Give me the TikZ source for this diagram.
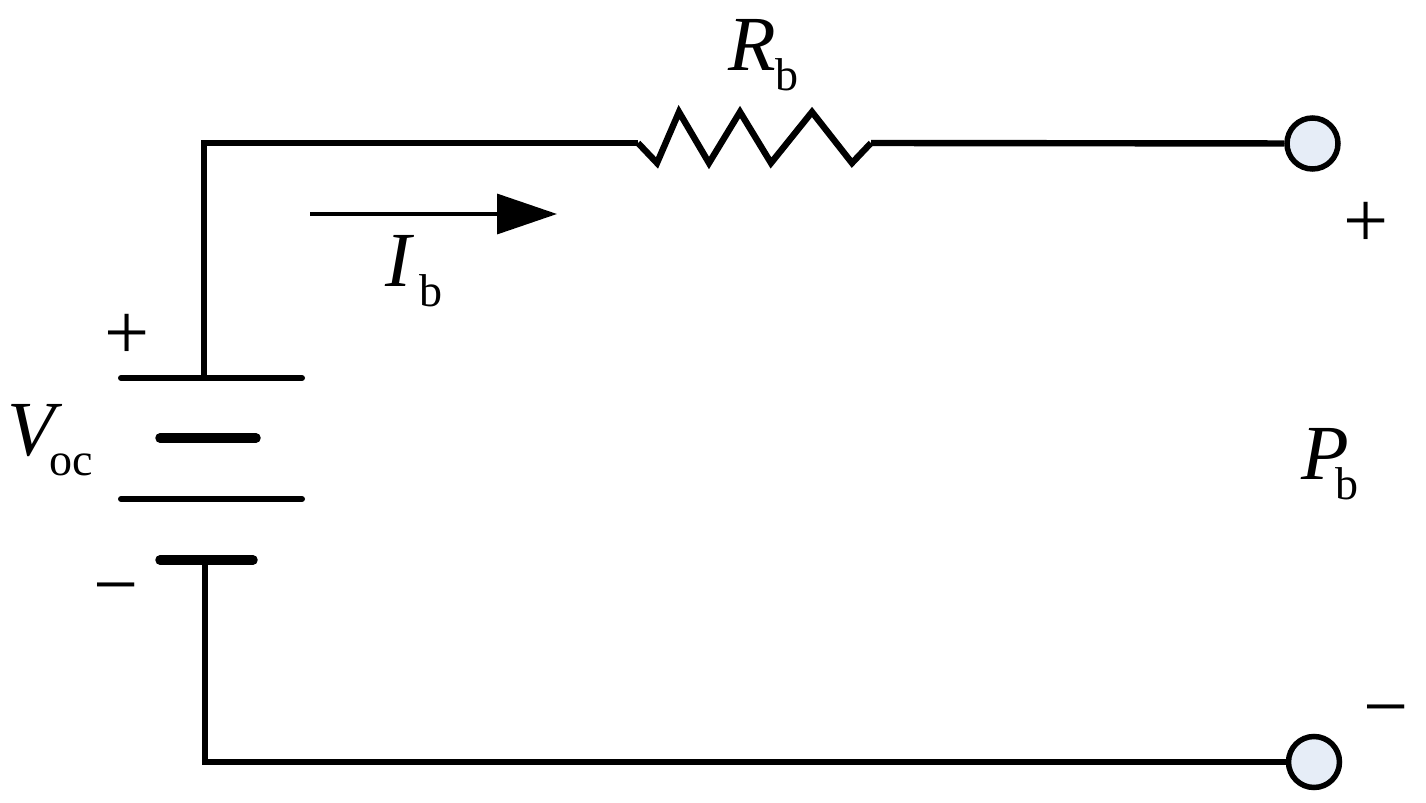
\documentclass[tikz,border=0pt]{standalone}
\usepackage{fontspec}
\setmainfont{Liberation Serif}
\usetikzlibrary{arrows.meta}
\definecolor{termblue}{RGB}{230,237,247}
\newcommand{\symb}[3]{{\fontsize{39pt}{44pt}\selectfont\itshape #1}\kern#3\raisebox{-10.25pt}{\fontsize{23pt}{28pt}\selectfont #2}}
\newcommand{\pol}[1]{{\fontsize{40pt}{44pt}\selectfont #1}}
\tikzset{wire/.style={line width=3.2pt}}
\tikzset{plate/.style={line width=3pt, line cap=round}}
\tikzset{thickplate/.style={line width=4.75pt, line cap=round}}
\tikzset{next/.style={-{Triangle[length=30pt, width=20pt]}, line width=1.75pt}}
\tikzset{term/.style={circle, draw, line width=2.75pt, fill=termblue, minimum size=25.5pt, inner sep=0pt}}
\tikzset{lab/.style={anchor=base west, inner sep=0pt}}
\begin{document}
\begin{tikzpicture}[x=.5pt, y=-.5pt]
  \useasboundingbox (0,0) rectangle (1426,803);

  % --- battery ---
  \coordinate (Pa) at (121,378);
  \coordinate (Pb) at (302,378);
  \coordinate (Qa) at (160,438);
  \coordinate (Qb) at (256,438);
  \coordinate (Ra) at (121,499);
  \coordinate (Rb) at (302,499);
  \coordinate (Sa) at (160,560);
  \coordinate (Sb) at (253,560);
  \draw[plate] (Pa) -- (Pb);
  \draw[thickplate] (Qa) -- (Qb);
  \draw[plate] (Ra) -- (Rb);
  \draw[thickplate] (Sa) -- (Sb);

  % --- terminals ---
  \node[term] (TermP) at (1312.5,143.5) {};
  \node[term] (TermN) at (1314,762) {};

  % --- wires ---
  \coordinate (BatP) at (204,378);
  \coordinate (BatN) at (205,560);
  \coordinate (Corner) at (204,143);
  \coordinate (LowCorner) at (205,762);
  \coordinate (ResL) at (638,143);
  \coordinate (ResR) at (871,143);
  \draw[wire, line join=miter] (BatP) -- (Corner) -- (ResL);
  \draw[wire, line join=miter] (BatN) -- (LowCorner) -- (TermN);
  \draw[wire] (ResR) -- (TermP);

  % --- resistor ---
  \draw[wire, line join=miter] (ResL) -- (657,163) -- (679,112) -- (709,163) -- (740,112)
        -- (771,163) -- (812,112) -- (852,163) -- (ResR);

  % --- current ---
  \coordinate (Ia) at (310,214);
  \coordinate (Ib) at (557,214);
  \draw[next] (Ia) -- (Ib);

  % --- labels ---
  \node[lab] (Rlab) at (728,70) {\symb{R}{b}{-.5pt}};
  \node[lab] (Ilab) at (385,286) {\symb{I}{b}{4pt}};
  \node[lab] (Vlab) at (7,455) {\symb{V}{oc}{-3pt}};
  \node[lab] (Plab) at (1301,479) {\symb{P}{b}{-7pt}};

  \node[inner sep=0pt] (PlusL) at (127,337) {\pol{+}};
  \node[inner sep=0pt] (MinusL) at (116,597) {\pol{−}};
  \node[inner sep=0pt] (PlusR) at (1366,225) {\pol{+}};
  \node[inner sep=0pt] (MinusR) at (1386,719) {\pol{−}};
\end{tikzpicture}
\end{document}
